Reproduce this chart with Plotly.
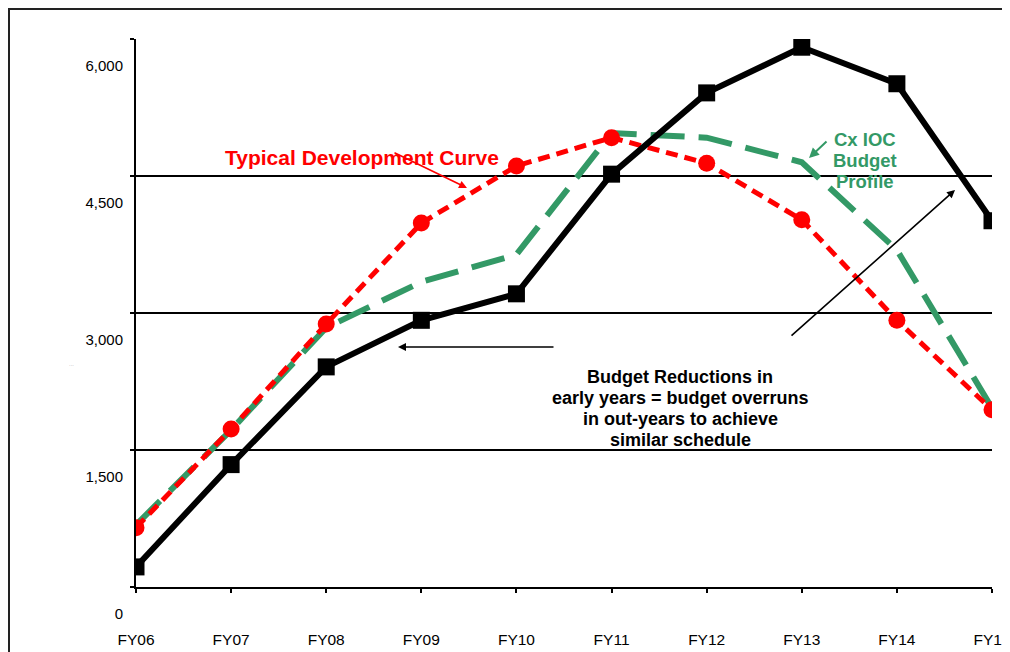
import plotly.graph_objects as go

years = ["FY06", "FY07", "FY08", "FY09", "FY10", "FY11", "FY12", "FY13", "FY14", "FY15"]
black_series = [220, 1340, 2410, 2920, 3210, 4520, 5410, 5910, 5510, 4010]
typical_curve = [650, 1730, 2880, 3985, 4610, 4920, 4640, 4020, 2920, 1940]
cx_ioc_profile = [680, 1720, 2840, 3340, 3640, 4970, 4920, 4650, 3690, 1960]
y_ticks = [0, 1500, 3000, 4500, 6000]
y_tick_text = ["0", "1,500", "3,000", "4,500", "6,000"]

green_label_lines = ["Cx IOC", "Budget", "Profile"]
note_lines = ["Budget Reductions in", "early years = budget overruns",
              "in out-years to achieve", "similar schedule"]

FONT = "Arial, Liberation Sans, sans-serif"

fig = go.Figure()
fig.add_trace(go.Scatter(x=years, y=cx_ioc_profile, mode="lines",
                         line=dict(color="#339966", width=6, dash="34px,14px"),
                         showlegend=False, hoverinfo="skip"))
fig.add_trace(go.Scatter(x=years, y=typical_curve, mode="lines+markers",
                         line=dict(color="#FF0000", width=5, dash="12px,7px"),
                         marker=dict(symbol="circle", size=17, color="#FF0000"),
                         showlegend=False))
fig.add_trace(go.Scatter(x=years, y=black_series, mode="lines+markers",
                         line=dict(color="#000000", width=6),
                         marker=dict(symbol="square", size=17, color="#000000"),
                         showlegend=False))

# page body adds an 8px offset; size and margins compensate so the plot area
# sits at x 136..992, y 39..587 in the window
fig.update_layout(
    width=1002, height=644,
    margin=dict(l=128, r=18, t=31, b=65),
    paper_bgcolor="white", plot_bgcolor="white",
    font=dict(family=FONT, size=15, color="black"),
    xaxis=dict(type="category", range=[0, 9], showgrid=False, showline=True,
               linecolor="black", linewidth=2, ticks="outside", ticklen=4,
               tickwidth=2, tickcolor="black", ticklabelstandoff=33,
               tickfont=dict(size=15.5), zeroline=False, automargin=False),
    yaxis=dict(range=[0, 6000], tickvals=y_ticks, ticktext=y_tick_text,
               showgrid=True, gridcolor="black", gridwidth=1.5,
               showline=True, linecolor="black", linewidth=2,
               ticks="outside", ticklen=4, tickwidth=2, tickcolor="black",
               ticklabelshift=27, ticklabelstandoff=4,
               tickfont=dict(size=15), zeroline=False, automargin=False),
)

def px_to_x(px):
    return (px - 136) / 95.11

def px_to_y(py):
    return (587 - py) * 6000 / 548

# outer frame (top and left edges visible, others run off the page)
fig.add_shape(type="rect", xref="paper", yref="paper",
              x0=(9 - 136) / 856, x1=(1030 - 136) / 856,
              y0=(587 - 670) / 548, y1=(587 - 9) / 548,
              line=dict(color="#222222", width=2), layer="below")

annotations = [
    dict(x=px_to_x(362), y=px_to_y(157), text="<b>Typical Development Curve</b>",
         showarrow=False, font=dict(color="#FF0000", size=21, family=FONT)),
    # arrows
    dict(x=px_to_x(467), y=px_to_y(188), ax=-74, ay=-36, text="", showarrow=True,
         arrowhead=2, arrowsize=1, arrowwidth=1.6, arrowcolor="#FF0000"),
    dict(x=px_to_x(809), y=px_to_y(158), ax=19, ay=-18, text="", showarrow=True,
         arrowhead=2, arrowsize=1, arrowwidth=2, arrowcolor="#339966"),
    dict(x=px_to_x(398), y=px_to_y(347), ax=157, ay=0, text="", showarrow=True,
         arrowhead=2, arrowsize=1, arrowwidth=1.6, arrowcolor="black"),
    dict(x=px_to_x(955), y=px_to_y(190), ax=-165, ay=147, text="", showarrow=True,
         arrowhead=2, arrowsize=1, arrowwidth=1.6, arrowcolor="black"),
    # tiny axis title mark
    dict(xref="paper", yref="paper", x=(67 - 136) / 856, y=(587 - 365) / 548,
         text="···", showarrow=False, font=dict(size=5, color="#999999")),
]
for i, line in enumerate(green_label_lines):
    annotations.append(dict(x=px_to_x(865), y=px_to_y(139 + 21 * i),
                            text=f"<b>{line}</b>", showarrow=False,
                            font=dict(color="#339966", size=18.5, family=FONT)))
for i, line in enumerate(note_lines):
    annotations.append(dict(x=px_to_x(680), y=px_to_y(377 + 21 * i),
                            text=f"<b>{line}</b>", showarrow=False,
                            font=dict(color="black", size=18, family=FONT)))
for a in annotations:
    a.setdefault("xref", "x")
    a.setdefault("yref", "y")
    fig.add_annotation(**a)

fig.write_html("out.html", config={"responsive": False})
